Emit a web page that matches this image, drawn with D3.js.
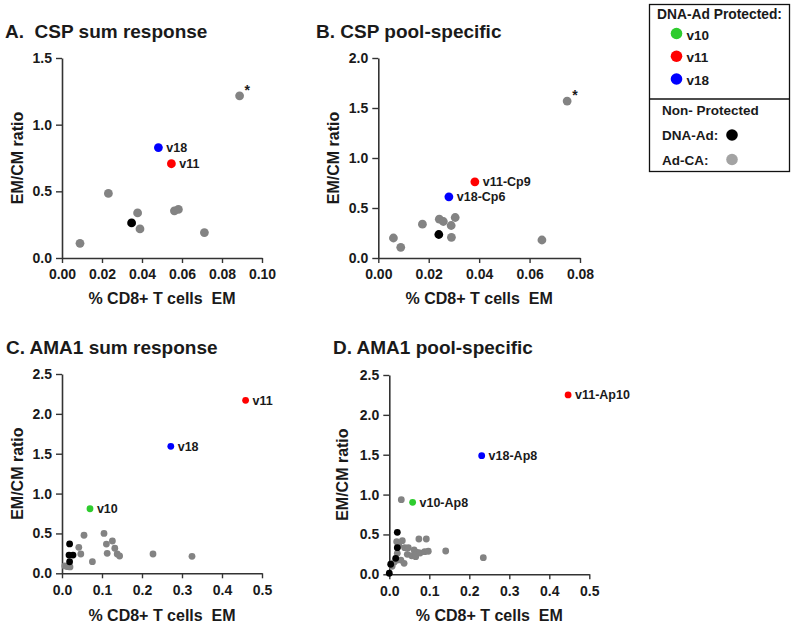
<!DOCTYPE html>
<html><head><meta charset="utf-8">
<script src="https://cdn.jsdelivr.net/npm/d3@7"></script>
<style>
body{margin:0;background:#fff;}
svg{font-family:"Liberation Sans",Arial,sans-serif;}
</style></head>
<body><svg id="c" width="794" height="625"></svg>
<script>
// ---------- Panel A: CSP sum response ----------
const aGrayX = [0.0888,0.0232,0.0378,0.0390,0.0562,0.0582,0.0712,0.0090];
const aGrayY = [1.216,0.484,0.338,0.218,0.354,0.364,0.191,0.110];
const aBlackX = [0.0348];
const aBlackY = [0.263];
const aProtLabels = ["v18","v11"];
const aProtX = [0.0482,0.0547];
const aProtY = [0.828,0.707];
const aStar = [0]; // index of gray point marked with *

// ---------- Panel B: CSP pool-specific ----------
const bGrayX = [0.0749,0.0060,0.0089,0.0175,0.0242,0.0258,0.0289,0.0305,0.0290,0.0649];
const bGrayY = [1.569,0.200,0.107,0.338,0.388,0.365,0.325,0.405,0.207,0.180];
const bBlackX = [0.0240];
const bBlackY = [0.235];
const bProtLabels = ["v11-Cp9","v18-Cp6"];
const bProtX = [0.0383,0.0280];
const bProtY = [0.762,0.612];
const bStar = [0];

// ---------- Panel C: AMA1 sum response ----------
const cGrayX = [0.055,0.105,0.042,0.047,0.076,0.111,0.126,0.113,0.132,0.138,0.144,0.2275,0.325,0.007,0.0125,0.017,0.020];
const cGrayY = [0.477,0.500,0.326,0.242,0.146,0.367,0.405,0.251,0.314,0.242,0.217,0.242,0.213,0.092,0.085,0.083,0.080];
const cBlackX = [0.019,0.0175,0.0275,0.019];
const cBlackY = [0.368,0.229,0.229,0.145];
const cProtLabels = ["v11","v18","v10"];
const cProtX = [0.459,0.272,0.070];
const cProtY = [2.17,1.593,0.81];

// ---------- Panel D: AMA1 pool-specific ----------
const dGrayX = [0.0185,0.0325,0.024,0.0385,0.0475,0.062,0.070,0.077,0.0885,0.0975,0.074,0.0925,0.045,0.056,0.066,0.020,0.020,0.012,0.029,0.007,0.030,0.141,0.235,0.037];
const dGrayY = [0.409,0.422,0.359,0.334,0.334,0.305,0.276,0.267,0.284,0.289,0.443,0.443,0.251,0.233,0.221,0.263,0.179,0.150,0.179,0.100,0.936,0.292,0.209,0.138];
const dBlackX = [0.020,0.020,0.016,0.0035,0.000];
const dBlackY = [0.527,0.334,0.200,0.126,0.013];
const dProtLabels = ["v11-Ap10","v18-Ap8","v10-Ap8"];
const dProtX = [0.447,0.231,0.0583];
const dProtY = [2.25,1.488,0.903];

// tick values
const aXTicks = [0,0.02,0.04,0.06,0.08,0.10];
const aYTicks = [0,0.5,1.0,1.5];
const bXTicks = [0,0.02,0.04,0.06,0.08];
const bYTicks = [0,0.5,1.0,1.5,2.0];
const cdXTicks = [0,0.1,0.2,0.3,0.4,0.5];
const cdYTicks = [0,0.5,1.0,1.5,2.0,2.5];

const protColor = {"v10":"#2ecc2e","v11":"#ff0000","v18":"#0000ff"};
const grayCol = "#838383", blackCol = "#000000";
const textCol = "#1a1a1a", axisCol = "#333";

const svg = d3.select("#c");

function panel(o){
  const g = svg.append("g");
  const x = d3.scaleLinear().domain(o.xDom).range([o.x0,o.x1]);
  const y = d3.scaleLinear().domain(o.yDom).range([o.y0,o.y1]);
  const xa = d3.axisBottom(x).tickValues(o.xTicks).tickSize(5).tickSizeOuter(0).tickFormat(d3.format(o.xFmt));
  const ya = d3.axisLeft(y).tickValues(o.yTicks).tickSize(6).tickSizeOuter(0).tickFormat(d3.format(".1f"));
  const gx = g.append("g").attr("transform",`translate(0,${o.y0})`).call(xa);
  const gy = g.append("g").attr("transform",`translate(${o.x0},0)`).call(ya);
  [gx,gy].forEach(a=>{
    a.select(".domain").attr("stroke",axisCol).attr("stroke-width",1.6);
    a.selectAll(".tick line").attr("stroke",axisCol).attr("stroke-width",1.4);
    a.selectAll(".tick text").attr("fill",textCol).attr("font-size",o.tickFs).attr("font-weight","bold")
     .attr("font-family","Liberation Sans,Arial,sans-serif");
  });
  gx.selectAll(".tick text").attr("dy","0.95em");
  gy.selectAll(".tick text").attr("dx","-1");
  // titles
  g.append("text").attr("x",o.tx).attr("y",o.ty).attr("font-size",19).attr("font-weight","bold")
   .attr("fill",textCol).style("white-space","pre").text(o.title);
  g.append("text").attr("transform",`translate(${o.ylx},${(o.y0+o.y1)/2}) rotate(-90)`)
   .attr("text-anchor","middle").attr("font-size",16).attr("font-weight","bold").attr("fill",textCol).text("EM/CM ratio");
  g.append("text").attr("x",(o.x0+o.x1)/2).attr("y",o.xly).attr("text-anchor","middle")
   .attr("font-size",16).attr("font-weight","bold").attr("fill",textCol).style("white-space","pre")
   .text("% CD8+ T cells  EM");
  // points
  const gray = o.gx.map((v,i)=>({x:v,y:o.gy[i]}));
  g.selectAll(".gp").data(gray).join("circle").attr("cx",d=>x(d.x)).attr("cy",d=>y(d.y)).attr("r",o.r).attr("fill",grayCol);
  const blk = o.bx.map((v,i)=>({x:v,y:o.by[i]}));
  g.selectAll(".bp").data(blk).join("circle").attr("cx",d=>x(d.x)).attr("cy",d=>y(d.y)).attr("r",o.r).attr("fill",blackCol);
  const prot = o.px.map((v,i)=>({x:v,y:o.py[i],l:o.pl[i]}));
  g.selectAll(".pp").data(prot).join("circle").attr("cx",d=>x(d.x)).attr("cy",d=>y(d.y)).attr("r",o.r)
   .attr("fill",d=>protColor[d.l.split("-")[0]]);
  g.selectAll(".pl").data(prot).join("text").attr("x",d=>x(d.x)+o.r+3.5).attr("y",d=>y(d.y)).attr("dy","0.36em")
   .attr("font-size",12.5).attr("font-weight","bold").attr("fill",textCol).text(d=>d.l);
  (o.star||[]).forEach(i=>{
    g.append("text").attr("x",x(o.gx[i])+5).attr("y",y(o.gy[i])-1).attr("font-size",14).attr("font-weight","bold")
     .attr("fill",textCol).text("*");
  });
}

panel({title:"A.  CSP sum response",tx:5,ty:38,x0:62,x1:262,y0:258,y1:58,xDom:[0,0.1],yDom:[0,1.5],
  xTicks:aXTicks,yTicks:aYTicks,xFmt:".2f",tickFs:14,ylx:23,xly:304,r:4.4,
  gx:aGrayX,gy:aGrayY,bx:aBlackX,by:aBlackY,px:aProtX,py:aProtY,pl:aProtLabels,star:aStar});
panel({title:"B. CSP pool-specific",tx:316,ty:38,x0:378.3,x1:580,y0:258,y1:58,xDom:[0,0.08],yDom:[0,2.0],
  xTicks:bXTicks,yTicks:bYTicks,xFmt:".2f",tickFs:14,ylx:339,xly:304,r:4.4,
  gx:bGrayX,gy:bGrayY,bx:bBlackX,by:bBlackY,px:bProtX,py:bProtY,pl:bProtLabels,star:bStar});
panel({title:"C. AMA1 sum response",tx:6,ty:354,x0:62,x1:262,y0:573.3,y1:374,xDom:[0,0.5],yDom:[0,2.5],
  xTicks:cdXTicks,yTicks:cdYTicks,xFmt:".1f",tickFs:14,ylx:23,xly:621,r:3.4,
  gx:cGrayX,gy:cGrayY,bx:cBlackX,by:cBlackY,px:cProtX,py:cProtY,pl:cProtLabels});
panel({title:"D. AMA1 pool-specific",tx:333,ty:354,x0:389.3,x1:589.3,y0:574.3,y1:375,xDom:[0,0.5],yDom:[0,2.5],
  xTicks:cdXTicks,yTicks:cdYTicks,xFmt:".1f",tickFs:14,ylx:348,xly:621,r:3.4,
  gx:dGrayX,gy:dGrayY,bx:dBlackX,by:dBlackY,px:dProtX,py:dProtY,pl:dProtLabels});

// ---------- Legend ----------
const legProt = ["v10","v11","v18"];
const legNon = [{l:"DNA-Ad:",c:blackCol},{l:"Ad-CA:",c:"#a3a3a3"}];
const lg = svg.append("g");
lg.append("rect").attr("x",649.5).attr("y",4.5).attr("width",140).attr("height",167).attr("fill","none").attr("stroke","#111").attr("stroke-width",1.3);
lg.append("line").attr("x1",649.5).attr("x2",789.5).attr("y1",99).attr("y2",99).attr("stroke","#111").attr("stroke-width",1.3);
lg.append("text").attr("x",657).attr("y",19).attr("font-size",13.8).attr("font-weight","bold").attr("fill",textCol).text("DNA-Ad Protected:");
const ly = d3.scalePoint().domain(legProt).range([33.5,79]);
lg.selectAll(".lc").data(legProt).join("circle").attr("cx",676.5).attr("cy",d=>ly(d)).attr("r",5.8).attr("fill",d=>protColor[d]);
lg.selectAll(".lt").data(legProt).join("text").attr("x",686.5).attr("y",d=>ly(d)+6).attr("font-size",13.5).attr("font-weight","bold").attr("fill",textCol).text(d=>d);
lg.append("text").attr("x",662).attr("y",115).attr("font-size",13.5).attr("font-weight","bold").attr("fill",textCol).text("Non- Protected");
const ly2 = d3.scalePoint().domain(legNon.map(d=>d.l)).range([135,159.5]);
lg.selectAll(".nc").data(legNon).join("circle").attr("cx",732).attr("cy",d=>ly2(d.l)).attr("r",5.8).attr("fill",d=>d.c);
lg.selectAll(".nt").data(legNon).join("text").attr("x",662).attr("y",d=>ly2(d.l)+5).attr("font-size",13.5).attr("font-weight","bold").attr("fill",textCol).text(d=>d.l);
</script></body></html>
